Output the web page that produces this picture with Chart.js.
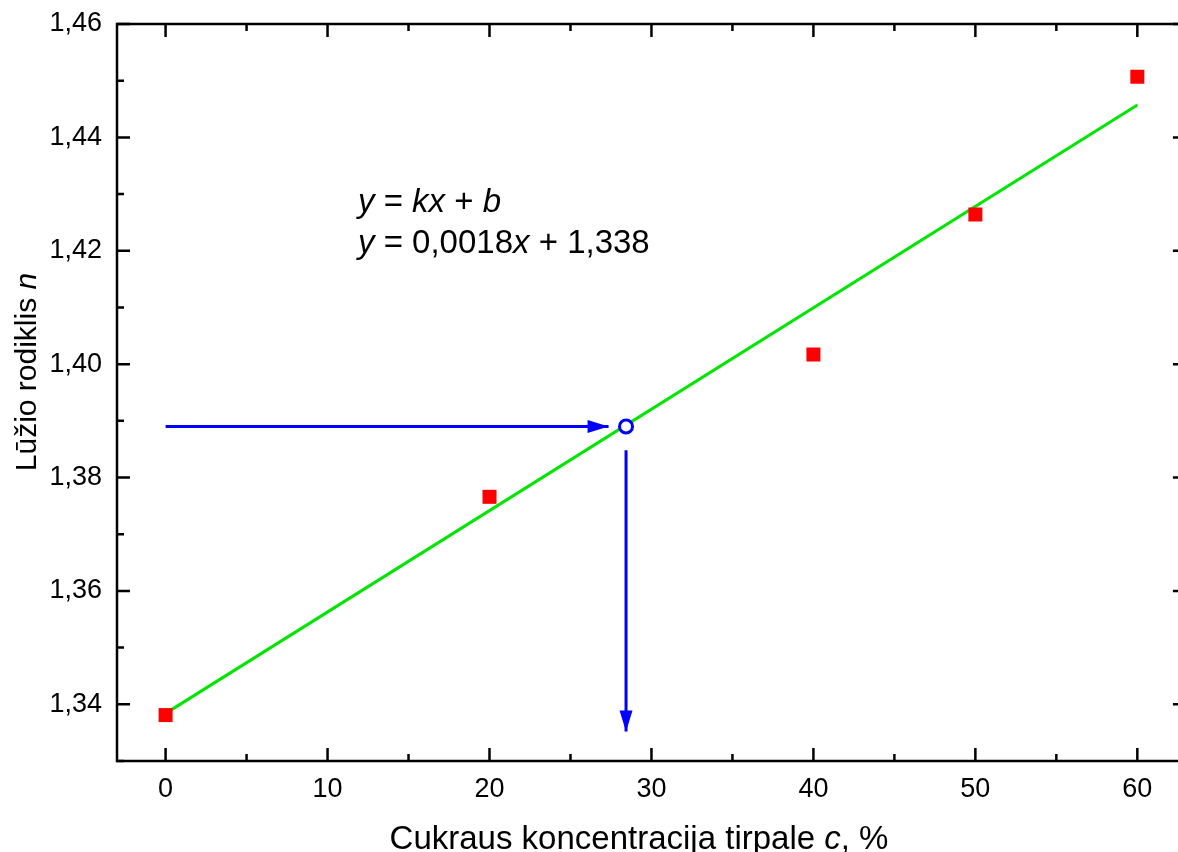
<!DOCTYPE html>
<html>
<head>
<meta charset="utf-8">
<script src="https://cdn.jsdelivr.net/npm/chart.js@4.4.1/dist/chart.umd.min.js"></script>
<style>
  html, body { margin: 0; padding: 0; background: #fff; overflow: hidden; }
  canvas { display: block; }
</style>
</head>
<body>
<canvas id="chart" width="1178" height="852"></canvas>
<script>
// measured points: sugar concentration (%) vs refractive index
const concentration = [0, 20, 40, 50, 60];
const refractiveIndex = [1.3381, 1.3766, 1.4017, 1.4264, 1.4507];

// linear fit y = 0.0018x + 1.338 (end points)
const fitX = [0, 60];
const fitY = [1.3384, 1.4457];

// reading of an unknown sample
const sampleX = 28.43;
const sampleY = 1.389;
const hArrowX = [0, 27.35];
const vArrowY = [1.3848, 1.3352];

const xTicks = [0, 10, 20, 30, 40, 50, 60];
const xMinor = [5, 15, 25, 35, 45, 55];
const yTicks = [1.34, 1.36, 1.38, 1.40, 1.42, 1.44, 1.46];
const yMinor = [1.33, 1.35, 1.37, 1.39, 1.41, 1.43, 1.45];

// the plot frame runs to x = 63, a little past the picture's right edge
const xFrameMax = 63;

const FONT = '"Liberation Sans", Arial, sans-serif';

// frame, inward ticks, arrow heads and text
const decorations = {
  id: 'decorations',
  afterDatasetsDraw(chart) {
    const ctx = chart.ctx;
    const a = chart.chartArea;
    const xs = chart.scales.x, ys = chart.scales.y;
    const right = xs.getPixelForValue(xFrameMax);
    ctx.save();

    // arrow heads
    chart.data.datasets.forEach((ds, i) => {
      if (!ds.arrow) return;
      const pts = chart.getDatasetMeta(i).data;
      const p0 = pts[pts.length - 2], p1 = pts[pts.length - 1];
      const ang = Math.atan2(p1.y - p0.y, p1.x - p0.x);
      const len = 21, half = 6.5;
      ctx.fillStyle = ds.borderColor;
      ctx.beginPath();
      ctx.moveTo(p1.x, p1.y);
      ctx.lineTo(p1.x - len * Math.cos(ang) + half * Math.sin(ang), p1.y - len * Math.sin(ang) - half * Math.cos(ang));
      ctx.lineTo(p1.x - len * Math.cos(ang) - half * Math.sin(ang), p1.y - len * Math.sin(ang) + half * Math.cos(ang));
      ctx.closePath();
      ctx.fill();
    });

    // frame
    ctx.strokeStyle = '#000';
    ctx.lineWidth = 2.5;
    ctx.strokeRect(a.left, a.top, right - a.left, a.bottom - a.top);

    // ticks
    const major = 13, minor = 7;
    ctx.beginPath();
    xTicks.forEach(v => {
      const x = xs.getPixelForValue(v);
      ctx.moveTo(x, a.bottom); ctx.lineTo(x, a.bottom - major);
      ctx.moveTo(x, a.top); ctx.lineTo(x, a.top + major);
    });
    xMinor.forEach(v => {
      const x = xs.getPixelForValue(v);
      ctx.moveTo(x, a.bottom); ctx.lineTo(x, a.bottom - minor);
      ctx.moveTo(x, a.top); ctx.lineTo(x, a.top + minor);
    });
    yTicks.forEach(v => {
      const y = ys.getPixelForValue(v);
      ctx.moveTo(a.left, y); ctx.lineTo(a.left + major, y);
      ctx.moveTo(right, y); ctx.lineTo(right - major, y);
    });
    yMinor.forEach(v => {
      const y = ys.getPixelForValue(v);
      ctx.moveTo(a.left, y); ctx.lineTo(a.left + minor, y);
      ctx.moveTo(right, y); ctx.lineTo(right - minor, y);
    });
    ctx.stroke();

    ctx.fillStyle = '#000';
    ctx.textBaseline = 'alphabetic';

    // equation
    const ex = xs.getPixelForValue(11.88);
    const ey1 = ys.getPixelForValue(1.4268);
    const ey2 = ys.getPixelForValue(1.4196);
    drawRich(ctx, ex, ey1, [['y', true], [' = ', false], ['kx', true], [' + ', false], ['b', true]], 33);
    drawRich(ctx, ex, ey2, [['y', true], [' = 0,0018', false], ['x', true], [' + 1,338', false]], 33);

    // x title
    const xParts = [['Cukraus koncentracija tirpale ', false], ['c', true], [', %', false]];
    const xw = richWidth(ctx, xParts, 33);
    drawRich(ctx, 639 - xw / 2, 849, xParts, 33);

    // y title
    const yParts = [['Lūžio rodiklis ', false], ['n', true]];
    const yw = richWidth(ctx, yParts, 30);
    ctx.save();
    ctx.translate(36, 372);
    ctx.rotate(-Math.PI / 2);
    drawRich(ctx, -yw / 2, 0, yParts, 30);
    ctx.restore();

    ctx.restore();
  }
};

function richWidth(ctx, parts, size) {
  let w = 0;
  parts.forEach(([t, it]) => {
    ctx.font = (it ? 'italic ' : '') + size + 'px ' + FONT;
    w += ctx.measureText(t).width;
  });
  return w;
}

function drawRich(ctx, x, y, parts, size) {
  ctx.textAlign = 'left';
  parts.forEach(([t, it]) => {
    ctx.font = (it ? 'italic ' : '') + size + 'px ' + FONT;
    ctx.fillText(t, x, y);
    x += ctx.measureText(t).width;
  });
}

const fmt = v => v.toFixed(2).replace('.', ',');

new Chart(document.getElementById('chart'), {
  type: 'scatter',
  data: {
    datasets: [
      {
        label: 'sample',
        data: [{ x: sampleX, y: sampleY }],
        pointStyle: 'circle',
        pointRadius: 6.5,
        pointBackgroundColor: '#fff',
        pointBorderColor: '#0000ff',
        pointBorderWidth: 3,
        order: 0
      },
      {
        label: 'measured',
        data: concentration.map((c, i) => ({ x: c, y: refractiveIndex[i] })),
        pointStyle: 'rect',
        pointRadius: 9.9,
        pointBackgroundColor: '#ff0000',
        pointBorderWidth: 0,
        order: 1
      },
      {
        label: 'fit',
        data: fitX.map((x, i) => ({ x: x, y: fitY[i] })),
        showLine: true,
        borderColor: '#00e600',
        borderWidth: 3,
        pointRadius: 0,
        order: 2
      },
      {
        label: 'h-arrow',
        data: hArrowX.map(x => ({ x: x, y: sampleY })),
        showLine: true,
        borderColor: '#0000ff',
        borderWidth: 3,
        pointRadius: 0,
        arrow: true,
        order: 3
      },
      {
        label: 'v-arrow',
        data: vArrowY.map(y => ({ x: sampleX, y: y })),
        showLine: true,
        borderColor: '#0000ff',
        borderWidth: 3,
        pointRadius: 0,
        arrow: true,
        order: 3
      }
    ]
  },
  options: {
    responsive: false,
    animation: false,
    layout: { padding: { top: 24, right: 0, left: 0, bottom: 0 } },
    plugins: {
      legend: { display: false },
      tooltip: { enabled: false }
    },
    scales: {
      x: {
        type: 'linear',
        min: -3,
        max: 61.9,
        grid: { display: false, drawTicks: false },
        border: { display: false },
        afterBuildTicks: s => { s.ticks = xTicks.map(v => ({ value: v })); },
        afterFit: s => { s.height = 91; s.paddingLeft = 0; s.paddingRight = 0; },
        ticks: {
          padding: 12,
          color: '#000',
          font: { family: FONT, size: 27 },
          callback: v => String(v)
        }
      },
      y: {
        type: 'linear',
        min: 1.33,
        max: 1.46,
        grid: { display: false, drawTicks: false },
        border: { display: false },
        afterBuildTicks: s => { s.ticks = yTicks.map(v => ({ value: v })); },
        afterFit: s => { s.width = 117; s.paddingTop = 0; s.paddingBottom = 0; },
        ticks: {
          padding: 15,
          color: '#000',
          font: { family: FONT, size: 27 },
          callback: v => fmt(v)
        }
      }
    }
  },
  plugins: [decorations]
});
</script>
</body>
</html>
